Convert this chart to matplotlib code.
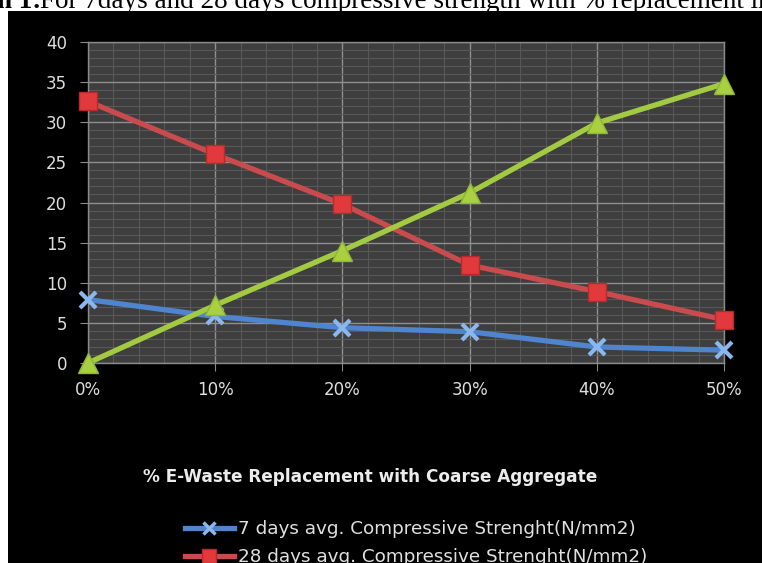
import matplotlib
matplotlib.use("Agg")
import matplotlib.pyplot as plt
from matplotlib.patches import Rectangle
from matplotlib.lines import Line2D
from matplotlib.ticker import MultipleLocator

# Data: compressive strength vs % e-waste replacement
categories = ["0%", "10%", "20%", "30%", "40%", "50%"]
strength_7d = [7.9, 5.8, 4.4, 3.9, 2.0, 1.6]
strength_28d = [32.6, 26.0, 19.8, 12.2, 8.9, 5.4]
third_series = [0.0, 7.2, 14.0, 21.2, 29.9, 34.8]
legend_labels = ["7 days avg. Compressive Strenght(N/mm2)",
                 "28 days avg. Compressive Strenght(N/mm2)"]
x_title = "% E-Waste Replacement with Coarse Aggregate"

W, H = 762, 563
fig = plt.figure(figsize=(W / 100, H / 100), dpi=100, facecolor="white")

# caption above the chart (partly cut at the top)
base_y = 1 - 7.5 / H
fig.text(-3 / W, base_y, "n 1:", fontsize=19.5, family="Liberation Serif",
         fontweight="bold", va="baseline", ha="left", zorder=-2)
fig.text(40 / W, base_y,
         "For 7days and 28 days compressive strength with % replacement in",
         fontsize=19.5, family="Liberation Serif", va="baseline", ha="left",
         zorder=-2)

# black chart panel
fig.patches.append(Rectangle((8 / W, 0), 1 - 8 / W, 1 - 11 / H,
                             transform=fig.transFigure, facecolor="black",
                             edgecolor="none", zorder=-1))

ax = fig.add_axes([88 / W, 1 - 363 / H, (724 - 88) / W, (363 - 42) / H])
ax.set_facecolor("#3e3e3e")
x = list(range(len(categories)))

ax.set_xlim(0, 5)
ax.set_ylim(0, 40)
ax.set_xticks(x)
ax.set_xticklabels(categories)
ax.set_yticks(range(0, 41, 5))
ax.xaxis.set_minor_locator(MultipleLocator(0.2))
ax.yaxis.set_minor_locator(MultipleLocator(1))
ax.grid(which="major", color="#8f8f8f", linewidth=1.0)
ax.grid(which="minor", color="#585858", linewidth=0.8)
ax.set_axisbelow(True)
for s in ax.spines.values():
    s.set_color("#8a8a8a")
    s.set_linewidth(1.0)
ax.tick_params(which="major", length=6, color="#8a8a8a", labelcolor="#dedede",
               labelsize=12)
ax.tick_params(which="minor", length=0)
ax.tick_params(axis="y", pad=9)
ax.tick_params(axis="x", pad=7)
for lab in ax.get_xticklabels() + ax.get_yticklabels():
    lab.set_family("DejaVu Sans")

blue_line, blue_mk = "#4f85cf", "#8ab8ee"
red_line, red_mk = "#c94b4d", "#e2393d"
green_line, green_mk = "#a2cb42", "#a8d040"

ax.plot(x, strength_7d, color=blue_line, lw=3.8, marker="x", ms=12,
        mec=blue_mk, mew=3, clip_on=False, zorder=3)
ax.plot(x, strength_28d, color=red_line, lw=3.8, marker="s", ms=13,
        mfc=red_mk, mec="#b52a2d", mew=1, clip_on=False, zorder=4)
ax.plot(x, third_series, color=green_line, lw=3.8, marker="^", ms=14,
        mfc=green_mk, mec="#8fb53a", mew=1, clip_on=False, zorder=5)

fig.text(370 / W, 1 - 477 / H, x_title, fontsize=12.2, fontweight="bold",
         family="DejaVu Sans", color="#ececec", ha="center", va="center")

handles = [
    Line2D([], [], color=blue_line, lw=3.8, marker="x", ms=9, mec=blue_mk, mew=2.5),
    Line2D([], [], color=red_line, lw=3.8, marker="s", ms=10, mfc=red_mk,
           mec="#b52a2d"),
]
leg = fig.legend(handles, legend_labels, loc="upper left",
                 bbox_to_anchor=(185 / W, 1 - 520 / H), frameon=False,
                 prop={"family": "DejaVu Sans", "size": 13.2},
                 handlelength=2.65, handletextpad=0.22, labelspacing=0.55,
                 borderpad=0, borderaxespad=0)
for t in leg.get_texts():
    t.set_color("#e0e0e0")

fig.savefig("out.png", dpi=100, facecolor="white")
